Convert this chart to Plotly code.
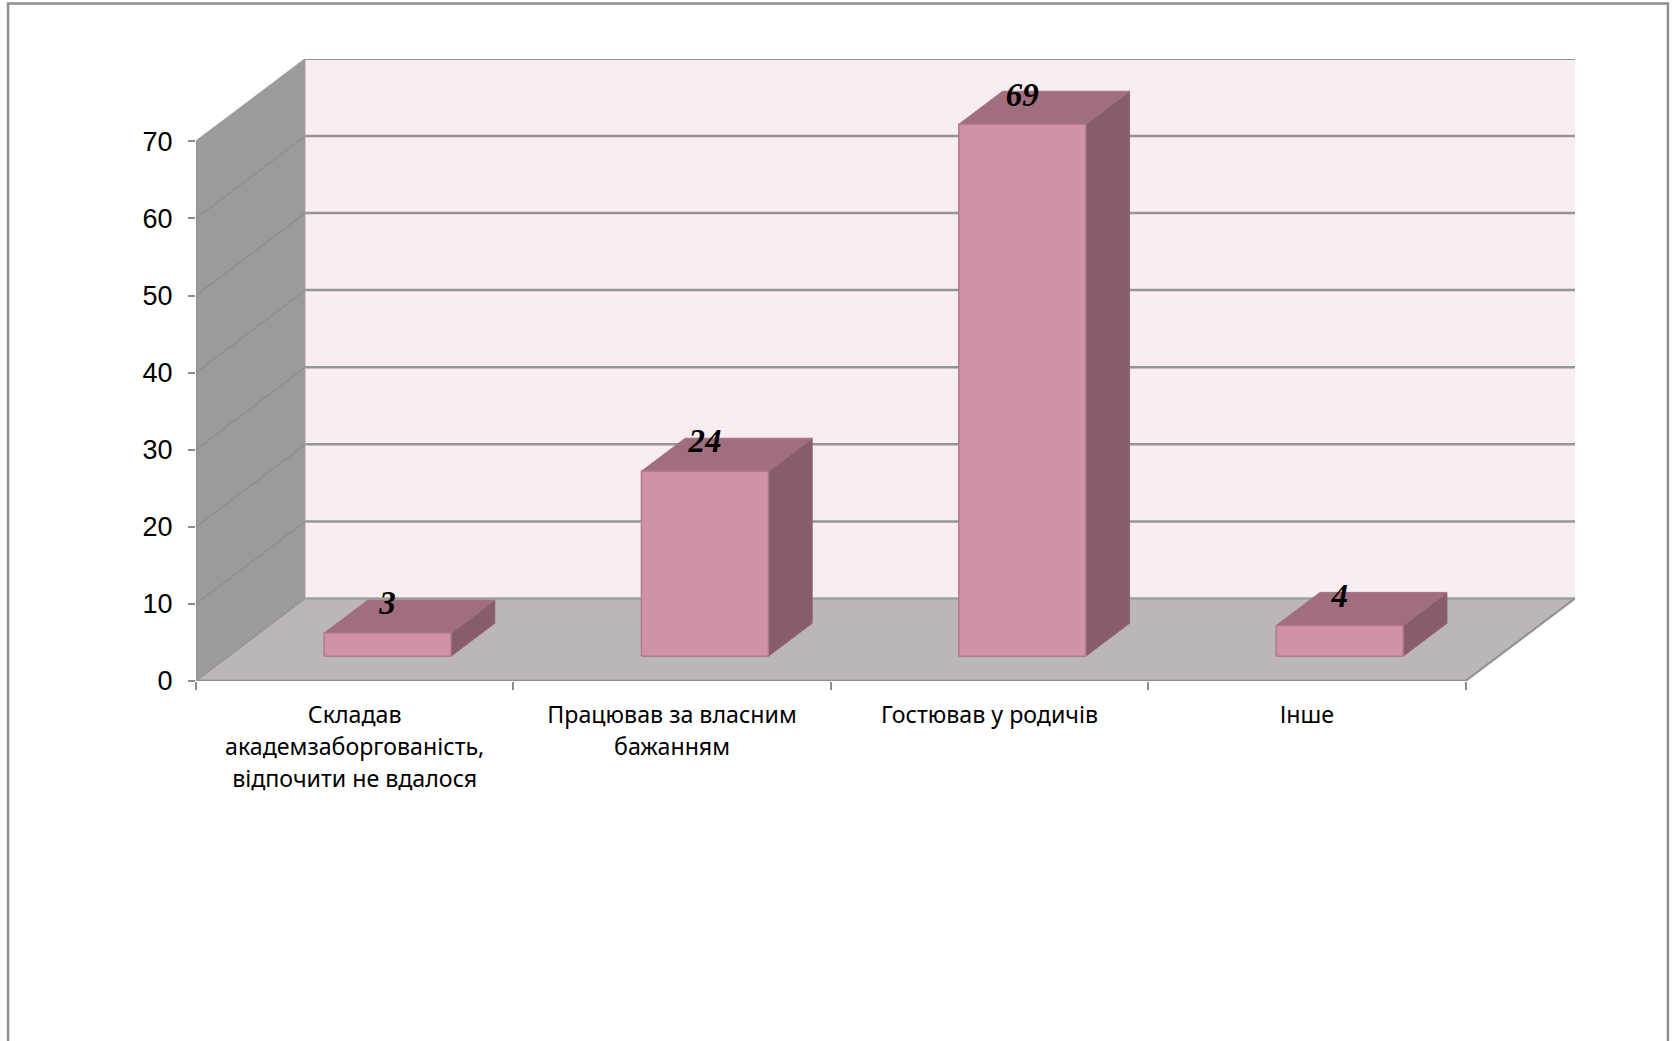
import plotly.graph_objects as go

categories = ["Складав<br>академзаборгованість,<br>відпочити не вдалося",
              "Працював за власним<br>бажанням",
              "Гостював у родичів",
              "Інше"]
values = [3, 24, 69, 4]
y_ticks = [0, 10, 20, 30, 40, 50, 60, 70]

W, H = 1675, 1041
L, R, T, B = 195.5, 100, 59, 360
CAT_PX = 317.5
UNIT_PX = 7.71
DX = 109.5 / CAT_PX      # depth shift in category units
DY = 82.5 / UNIT_PX      # depth shift in value units
N = len(categories)
D0, D1 = 0.30, 0.70      # bar depth span
BAR_W = 0.40
LABEL_UP = 27 / UNIT_PX

GRID = "#8c8c8c"


def proj(x, v, d=0.0):
    return x + d * DX, v + d * DY


def poly(points, fill, line=None, width=1):
    pts = [proj(*p) for p in points] + [proj(*points[0])]
    return go.Scatter(x=[p[0] for p in pts], y=[p[1] for p in pts], mode="lines",
                      fill="toself", fillcolor=fill,
                      line=dict(color=line or fill, width=width if line else 0),
                      hoverinfo="skip", showlegend=False, cliponaxis=False)


def seg(p, q, color=GRID, width=2):
    a, b = proj(*p), proj(*q)
    return go.Scatter(x=[a[0], b[0]], y=[a[1], b[1]], mode="lines",
                      line=dict(color=color, width=width),
                      hoverinfo="skip", showlegend=False, cliponaxis=False)


fig = go.Figure()
top_v = y_ticks[-1]
# walls and floor
fig.add_trace(poly([(0, 0, 1), (N, 0, 1), (N, top_v, 1), (0, top_v, 1)], "#f8eef2"))
fig.add_trace(poly([(0, 0, 0), (0, 0, 1), (0, top_v, 1), (0, top_v, 0)], "#9d9a9b"))
fig.add_trace(poly([(0, 0, 0), (N, 0, 0), (N, 0, 1), (0, 0, 1)], "#bbb6b8"))
# gridlines
for v in y_ticks:
    if v > 0:
        fig.add_trace(seg((0, v, 1), (N, v, 1), "#959595", 2.5))
    fig.add_trace(seg((0, v, 0), (0, v, 1), "#878787", 1))
fig.add_trace(seg((0, 0, 1), (N, 0, 1), "#a0a0a0", 2.5))
fig.add_trace(seg((0, 0, 0), (0, top_v, 0), "#8c8c8c", 1.5))
fig.add_trace(seg((0, top_v, 0), (0, top_v, 1), "#a0a0a0", 1.5))
fig.add_trace(seg((0, 0, 0), (N, 0, 0), "#8f8f8f", 2.5))
fig.add_trace(seg((N, 0, 0), (N, 0, 1), "#8f8f8f", 2))

# bars
for i, v in enumerate(values):
    x0, x1 = i + 0.5 - BAR_W / 2, i + 0.5 + BAR_W / 2
    fig.add_trace(poly([(x1, 0, D0), (x1, 0, D1), (x1, v, D1), (x1, v, D0)], "#875d6c", "#8f6475", 1))
    fig.add_trace(poly([(x0, v, D0), (x1, v, D0), (x1, v, D1), (x0, v, D1)], "#a06e7e", "#a5727f", 1))
    fig.add_trace(poly([(x0, 0, D0), (x1, 0, D0), (x1, v, D0), (x0, v, D0)], "#d192a8", "#b07a90", 1.5))

# value labels
lab = [proj(i + 0.5, v + LABEL_UP, D0) for i, v in enumerate(values)]
fig.add_trace(go.Scatter(x=[p[0] for p in lab], y=[p[1] for p in lab], mode="text",
                         text=[str(v) for v in values], textposition="middle center",
                         textfont=dict(family="Liberation Serif", size=33, color="#000000",
                                       weight="bold", style="italic"),
                         hoverinfo="skip", showlegend=False, cliponaxis=False))

plot_w = W - L - R
plot_h = H - T - B
fig.update_layout(
    width=W, height=H, autosize=False,
    margin=dict(l=L, r=R, t=T, b=B, pad=0),
    paper_bgcolor="#ffffff", plot_bgcolor="rgba(0,0,0,0)",
    showlegend=False,
    xaxis=dict(range=[0, plot_w / CAT_PX], showgrid=False, zeroline=False, showline=False,
               tickmode="array", tickvals=[i + 0.5 for i in range(N)],
               ticktext=["<br>".join(f'<span style="font-size:23.2px">{s}</span>' for s in c.split("<br>"))
                         for c in categories],
               ticks="", ticklen=0, tickangle=0, ticklabelstandoff=16,
               tickfont=dict(family="Noto Sans", size=24.8, color="#000000"),
               minor=dict(tickmode="array", tickvals=list(range(N + 1)), ticks="outside",
                          ticklen=8, tickwidth=1.5, tickcolor="#8c8c8c", showgrid=False)),
    yaxis=dict(range=[0, plot_h / UNIT_PX], showgrid=False, zeroline=False, showline=False,
               tickmode="array", tickvals=y_ticks, ticktext=[str(t) for t in y_ticks],
               ticks="outside", ticklen=7, tickwidth=1.5, tickcolor="#8c8c8c",
               ticklabelstandoff=10,
               tickfont=dict(family="Liberation Sans", size=27, color="#000000")),
    shapes=[dict(type="rect", xref="paper", yref="paper",
                 x0=(7.5 - L) / plot_w, x1=(1668 - L) / plot_w,
                 y0=(H - 1046 - B) / plot_h, y1=(H - 3.5 - B) / plot_h,
                 line=dict(color="#8f8f8f", width=2.5), layer="below")],
)

fig.write_html("out.html", config={"displayModeBar": False},
               post_script="document.body.style.margin='0';document.body.style.overflow='hidden';")
